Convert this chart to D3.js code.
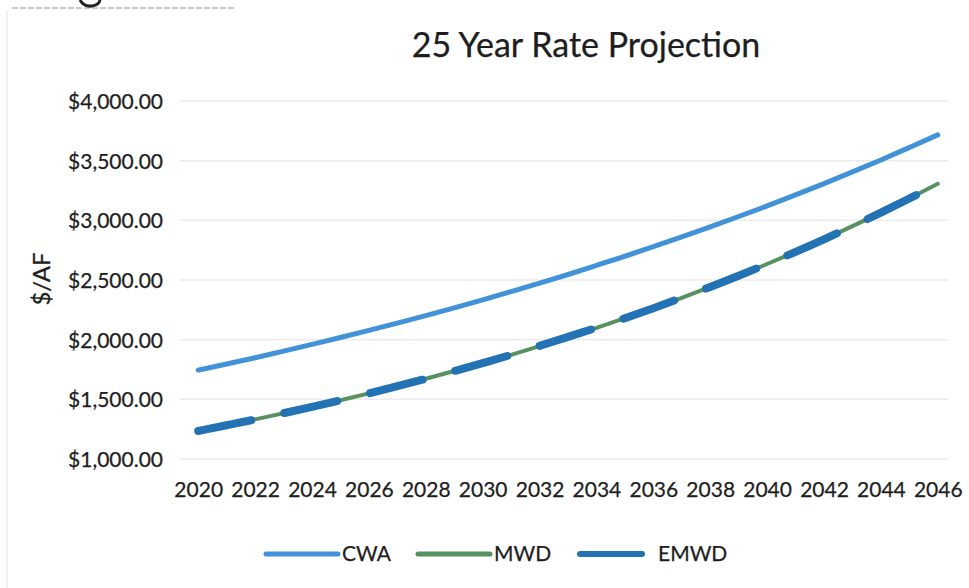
<!DOCTYPE html>
<html>
<head>
<meta charset="utf-8">
<script src="https://cdn.jsdelivr.net/npm/d3@7"></script>
<style>
  body { margin: 0; background: #fff; }
  text { font-family: Lato, "Open Sans", sans-serif; fill: #1e1e1e; stroke: #1e1e1e; stroke-width: 0.25px; }
</style>
</head>
<body>
<svg id="chart" width="969" height="588"></svg>
<script>
// years on the category axis
var years = [2020, 2021, 2022, 2023, 2024, 2025, 2026, 2027, 2028, 2029, 2030, 2031, 2032, 2033,
             2034, 2035, 2036, 2037, 2038, 2039, 2040, 2041, 2042, 2043, 2044, 2045, 2046];

// $/AF
var cwa  = [1745, 1796, 1849, 1904, 1960, 2018, 2078, 2139, 2202, 2267, 2334, 2403, 2474, 2546,
            2622, 2699, 2779, 2861, 2945, 3032, 3121, 3213, 3308, 3406, 3506, 3610, 3716];
var mwd  = [1235, 1283, 1332, 1384, 1437, 1492, 1550, 1610, 1672, 1737, 1804, 1873, 1946, 2021,
            2099, 2180, 2264, 2351, 2442, 2536, 2634, 2736, 2841, 2951, 3065, 3183, 3306];
var emwd = [1235, 1283, 1332, 1384, 1437, 1492, 1550, 1610, 1672, 1737, 1804, 1873, 1948, 2023,
            2100, 2180, 2264, 2351, 2442, 2536, 2634, 2736, 2841, 2951, 3065, 3183, 3306];

var yTicks = [1000, 1500, 2000, 2500, 3000, 3500, 4000];
var xLabels = [2020, 2022, 2024, 2026, 2028, 2030, 2032, 2034, 2036, 2038, 2040, 2042, 2044, 2046];

var series = [
  {name: "CWA",  values: cwa,  color: "#4192d8", width: 5},
  {name: "MWD",  values: mwd,  color: "#56915f", width: 4},
  {name: "EMWD", values: emwd, color: "#2272b4", width: 8, dash: "54,34"}
];

var svg = d3.select("#chart");

// scan leftovers at the edges
svg.append("line").attr("x1", 12).attr("x2", 235).attr("y1", 8).attr("y2", 8)
  .attr("stroke", "#999").attr("stroke-width", 1).attr("stroke-dasharray", "6,2");
svg.append("path").attr("d", "M80,0 Q84,7 92,6 Q99,5 100,0").attr("fill", "none")
  .attr("stroke", "#222").attr("stroke-width", 3);
svg.append("line").attr("x1", 7).attr("x2", 7).attr("y1", 10).attr("y2", 588)
  .attr("stroke", "#f2f2f2").attr("stroke-width", 2);

var x = d3.scalePoint()
  .domain(years)
  .range([184, 952])
  .padding(0.5);

var y = d3.scaleLinear()
  .domain([1000, 4000])
  .range([459, 101]);

// gridlines
svg.append("g")
  .selectAll("line")
  .data(yTicks)
  .enter().append("line")
    .attr("x1", 180).attr("x2", 948)
    .attr("y1", function(d) { return y(d); })
    .attr("y2", function(d) { return y(d); })
    .attr("stroke", "#ebebeb")
    .attr("stroke-width", 1.5);

// y axis labels
var yAxis = svg.append("g")
  .attr("transform", "translate(172,0)")
  .call(d3.axisLeft(y).tickValues(yTicks).tickSize(0).tickFormat(d3.format("$,.2f")));
yAxis.select(".domain").remove();
yAxis.selectAll("text").style("font-size", "21px").attr("dy", "0.35em").attr("x", -9);

// x axis labels
var xAxis = svg.append("g")
  .attr("transform", "translate(0,476)")
  .call(d3.axisBottom(x).tickValues(xLabels).tickSize(0));
xAxis.select(".domain").remove();
xAxis.selectAll("text").style("font-size", "21px").attr("dy", "0.71em").attr("y", 6);

// title + axis title
svg.append("text")
  .attr("x", 586).attr("y", 57)
  .attr("text-anchor", "middle")
  .style("font-size", "34px")
  .text("25 Year Rate Projection");

svg.append("text")
  .attr("transform", "translate(50,279) rotate(-90)")
  .attr("text-anchor", "middle")
  .style("font-size", "24px")
  .text("$/AF");

// lines
var line = d3.line()
  .x(function(d, i) { return x(years[i]); })
  .y(function(d) { return y(d); })
  .curve(d3.curveMonotoneX);

svg.append("g")
  .selectAll("path")
  .data(series)
  .enter().append("path")
    .attr("d", function(d) { return line(d.values); })
    .attr("fill", "none")
    .attr("stroke", function(d) { return d.color; })
    .attr("stroke-width", function(d) { return d.width; })
    .attr("stroke-linecap", "round")
    .attr("stroke-dasharray", function(d) { return d.dash || null; });

// legend
var legendX = [266, 418, 580];
var legend = svg.append("g")
  .selectAll("g")
  .data(series)
  .enter().append("g")
    .attr("transform", function(d, i) { return "translate(" + legendX[i] + ",554)"; });

legend.append("line")
  .attr("x1", 0).attr("x2", function(d) { return d.name == "EMWD" ? 62 : 72; })
  .attr("y1", 0).attr("y2", 0)
  .attr("stroke", function(d) { return d.color; })
  .attr("stroke-width", function(d) { return d.name == "EMWD" ? 6 : 5; })
  .attr("stroke-linecap", "round");

legend.append("text")
  .attr("x", function(d) { return d.name == "EMWD" ? 78 : 76; })
  .attr("y", 0)
  .attr("dy", "0.35em")
  .style("font-size", "21px")
  .text(function(d) { return d.name; });
</script>
</body>
</html>
